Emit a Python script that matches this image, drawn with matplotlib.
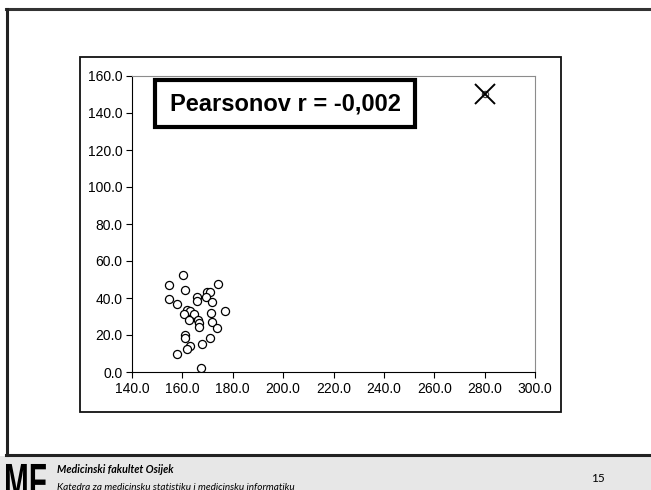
"""
Scatter of height vs. a second variable with one extreme outlier,
recreated as a lecture slide (Pearson r near zero).
"""

import matplotlib
matplotlib.use('Agg')
import matplotlib.pyplot as plt
from matplotlib.patches import Rectangle, PathPatch
from matplotlib.textpath import TextPath
from matplotlib.font_manager import FontProperties
from matplotlib.transforms import Affine2D, IdentityTransform

# data
x_vals = [160.1, 154.8, 174.0, 160.9, 169.9, 171.1, 165.9, 169.5, 165.9, 171.7,
          154.8, 157.9, 176.8, 161.9, 163.0, 160.8, 164.7, 171.2, 162.7, 166.3,
          166.7, 171.6, 166.7, 173.9, 160.9, 160.9, 171.0, 167.8, 163.0, 161.7,
          157.9, 167.4]
y_vals = [52.4, 47.2, 47.7, 44.5, 43.2, 43.4, 40.7, 40.4, 38.4, 37.8,
          39.3, 36.9, 33.0, 33.3, 33.0, 31.5, 31.2, 32.1, 28.1, 28.1,
          26.3, 26.8, 24.2, 23.6, 19.8, 18.6, 18.4, 15.3, 14.2, 12.6,
          9.6, 2.3]
outlier_x = [280.0]
outlier_y = [150.0]

x_ticks = [140, 160, 180, 200, 220, 240, 260, 280, 300]
y_ticks = [0, 20, 40, 60, 80, 100, 120, 140, 160]

label_text = 'Pearsonov r = -0,002'
footer_title = 'Medicinski fakultet Osijek'
footer_sub = 'Katedra za medicinsku statistiku i medicinsku informatiku'
page_no = '15'

W, H = 651, 490
fig = plt.figure(figsize=(W / 100, H / 100), dpi=100)
fig.patch.set_facecolor('white')

def fx(px):
    return px / W

def fy(py):
    # image pixel row -> figure fraction
    return 1 - py / H

# footer band
fig.add_artist(Rectangle((0, 0), 1, fy(456), transform=fig.transFigure,
                         facecolor='#e7e7e7', edgecolor='none', zorder=0))

# slide frame lines
fig.add_artist(plt.Line2D([fx(6), 1], [fy(9), fy(9)], transform=fig.transFigure,
                          color='#333333', lw=2.2))
fig.add_artist(plt.Line2D([fx(7), fx(7)], [fy(9), fy(455)],
                          transform=fig.transFigure, color='#222222', lw=2.2))
fig.add_artist(plt.Line2D([fx(6), 1], [fy(455), fy(455)],
                          transform=fig.transFigure, color='#222222', lw=2.2))

# chart box
fig.add_artist(Rectangle((fx(80), fy(412)), fx(561 - 80), (412 - 57) / H,
                         transform=fig.transFigure, facecolor='white',
                         edgecolor='#111111', lw=1.3, zorder=1))

ax = fig.add_axes([fx(132), fy(372), fx(535 - 132), (372 - 76) / H])
ax.set_zorder(2)
ax.scatter(x_vals, y_vals, s=34, facecolors='white', edgecolors='black',
           linewidths=0.9, zorder=3)
ax.scatter(outlier_x, outlier_y, s=20, facecolors='white', edgecolors='#444444',
           linewidths=0.9, zorder=3)
ax.plot(outlier_x, outlier_y, marker='x', markersize=15, mew=1.4,
        color='black', linestyle='none', zorder=4)

ax.set_xlim(140, 300)
ax.set_ylim(0, 160)
ax.set_xticks(x_ticks)
ax.set_yticks(y_ticks)
ax.set_xticklabels(['%.1f' % t for t in x_ticks])
ax.set_yticklabels(['%.1f' % t for t in y_ticks])
for lab in ax.get_xticklabels() + ax.get_yticklabels():
    lab.set_fontfamily('Liberation Sans')
    lab.set_fontsize(10)
ax.tick_params(direction='out', length=4, width=0.8, color='black', pad=3)
ax.spines['left'].set_color('black')
ax.spines['bottom'].set_color('black')
ax.spines['top'].set_color('#8c8c8c')
ax.spines['right'].set_color('#8c8c8c')
for s in ax.spines.values():
    s.set_linewidth(0.8)

# label box
fig.add_artist(Rectangle((fx(155), fy(127)), fx(415 - 155), (127 - 80) / H,
                         transform=fig.transFigure, facecolor='white',
                         edgecolor='black', lw=3, zorder=5))
fig.text(fx(285), fy(104), label_text, ha='center', va='center',
         fontfamily='Liberation Sans', fontweight='bold', fontsize=17,
         zorder=6)

# MF logo, squeezed horizontally and cut off by the slide edge
tp = TextPath((0, 0), 'MF', size=48,
              prop=FontProperties(family='Liberation Sans', weight='bold'))
logo = PathPatch(tp, transform=Affine2D().scale(0.62, 1.0).translate(4, -7)
                 + IdentityTransform(), facecolor='black', edgecolor='none')
fig.add_artist(logo)

fig.text(fx(57), fy(469), footer_title, ha='left', va='center',
         fontfamily='Lato', fontstyle='italic', fontweight='bold', fontsize=7.7)
fig.text(fx(57), fy(487), footer_sub, ha='left', va='center',
         fontfamily='Lato', fontstyle='italic', fontsize=7.2)
fig.text(fx(598), fy(478), page_no, ha='center', va='center',
         fontfamily='Lato', fontsize=8.5)

fig.savefig('out.png', dpi=100)
